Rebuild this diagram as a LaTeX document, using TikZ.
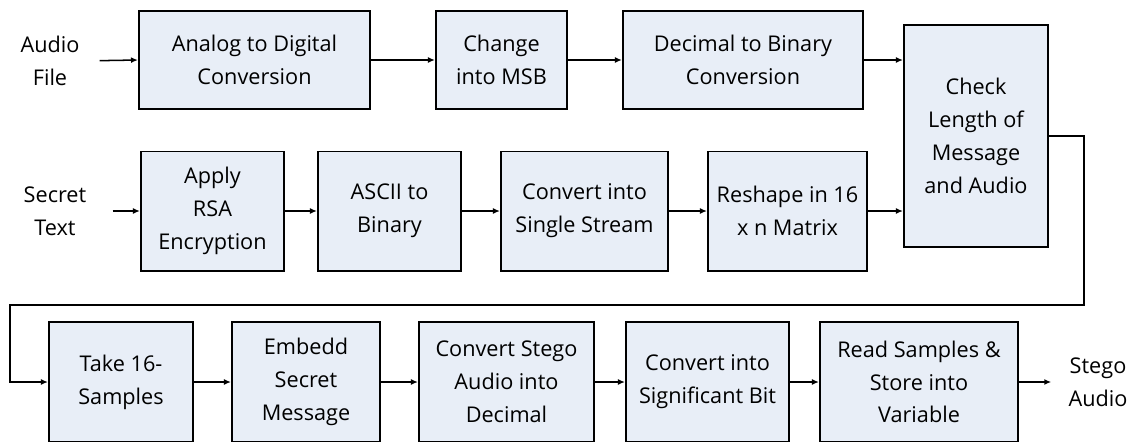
\documentclass[tikz,border=0pt]{standalone}
\usepackage{fontspec}
\setmainfont{Open Sans}
\usepackage{tikz}
\usetikzlibrary{arrows.meta}
\definecolor{boxfill}{HTML}{E8EEF7}
\newcommand{\px}{0.03cm}
\tikzset{
	stage/.style={draw=black, line width=1.7pt, fill=boxfill, rectangle, align=center, inner sep=0pt, font=\fontsize{18.5}{28}\selectfont},
	label/.style={align=center, inner sep=0pt, font=\fontsize{18.5}{28}\selectfont},
	flow/.style={line width=1.3pt, -{Latex[length=6pt,width=5pt]}},
}

\begin{document}
\begin{tikzpicture}[x=\px, y=-\px]
		%%%%% START %%%%%
		\useasboundingbox (0, 0) rectangle (1137, 441);
		
		% inputs
		\node[label] (audio) at (50, 61) {Audio\\File};
		\node[label] (secret) at (55, 211) {Secret\\Text};
		
		% first row
		\node[stage, minimum width=231*\px, minimum height=98*\px] (adc) at (254.5, 60) {Analog to Digital\\Conversion};
		\node[stage, minimum width=131*\px, minimum height=98*\px] (msb) at (501.5, 60) {Change\\into MSB};
		\node[stage, minimum width=240*\px, minimum height=98*\px] (dec) at (743, 60) {Decimal to Binary\\Conversion};
		\node[stage, minimum width=144*\px, minimum height=222*\px] (check) at (976, 136) {Check\\Length of\\Message\\and Audio};
		
		% second row
		\node[stage, minimum width=143*\px, minimum height=119*\px] (rsa) at (212.5, 211) {Apply\\RSA\\Encryption};
		\node[stage, minimum width=143*\px, minimum height=119*\px] (ascii) at (389.5, 211) {ASCII to\\Binary};
		\node[stage, minimum width=167*\px, minimum height=119*\px] (stream) at (584.5, 211) {Convert into\\Single Stream};
		\node[stage, minimum width=159*\px, minimum height=119*\px] (reshape) at (787.5, 211) {Reshape in 16\\x n Matrix};
		
		% third row
		\node[stage, minimum width=144*\px, minimum height=120*\px] (take) at (121, 382) {Take 16-\\Samples};
		\node[stage, minimum width=148*\px, minimum height=120*\px] (embed) at (306, 382) {Embedd\\Secret\\Message};
		\node[stage, minimum width=175*\px, minimum height=120*\px] (stegodec) at (506.5, 382) {Convert Stego\\Audio into\\Decimal};
		\node[stage, minimum width=163*\px, minimum height=120*\px] (sigbit) at (707.5, 382) {Convert into\\Significant Bit};
		\node[stage, minimum width=198*\px, minimum height=120*\px] (read) at (919, 382) {Read Samples \&\\Store into\\Variable};
		
		% output
		\node[label] (stego) at (1098, 382) {Stego\\Audio};
		
		% connectors
		\draw[flow, shorten <=20*\px] (audio.east) -- (adc.west);
		\draw[flow] (adc) -- (msb);
		\draw[flow] (msb) -- (dec);
		\draw[flow] (dec.east) -- (dec.east -| check.west);
		
		\draw[flow, shorten <=26*\px] (secret.east) -- (rsa.west);
		\draw[flow] (rsa) -- (ascii);
		\draw[flow] (ascii) -- (stream);
		\draw[flow] (stream) -- (reshape);
		\draw[flow] (reshape.east) -- (reshape.east -| check.west);
		
		\coordinate (loopR) at (1084, 305);
		\coordinate (loopL) at (10, 305);
		\draw[flow] (check.east) -| (loopR) -- (loopL) |- (take.west);
		
		\draw[flow] (take) -- (embed);
		\draw[flow] (embed) -- (stegodec);
		\draw[flow] (stegodec) -- (sigbit);
		\draw[flow] (sigbit) -- (read);
		\draw[flow, shorten >=17*\px] (read.east) -- (stego.west);
		
		%%%%% END %%%%%
	\end{tikzpicture}
\end{document}
